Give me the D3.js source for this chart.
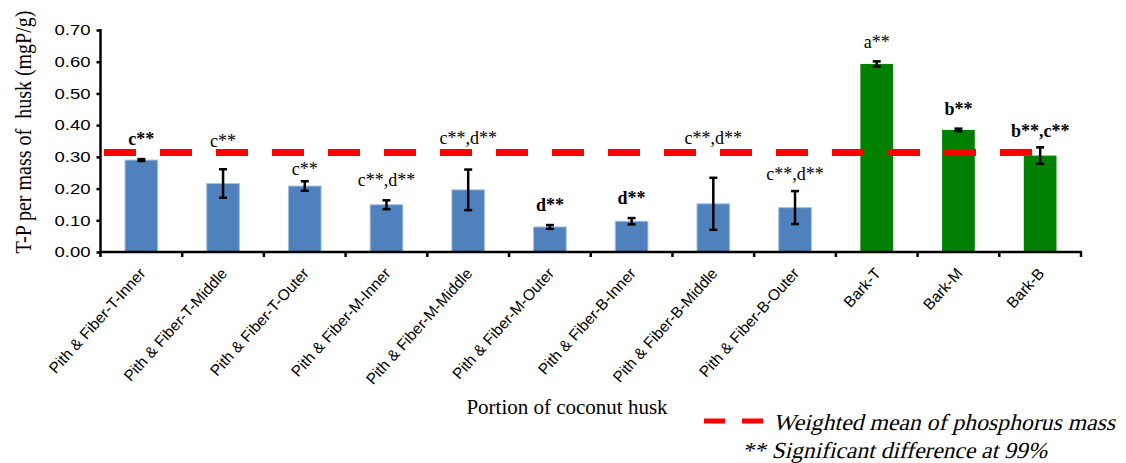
<!DOCTYPE html>
<html>
<head>
<meta charset="utf-8">
<script src="https://cdn.jsdelivr.net/npm/d3@7"></script>
<style>
  body { margin: 0; background: #fff; }
  svg { display: block; }
</style>
</head>
<body>
<svg id="chart" width="1126" height="463"></svg>
<script>
// ---- data ----
const categories = [
  "Pith & Fiber-T-Inner", "Pith & Fiber-T-Middle", "Pith & Fiber-T-Outer",
  "Pith & Fiber-M-Inner", "Pith & Fiber-M-Middle", "Pith & Fiber-M-Outer",
  "Pith & Fiber-B-Inner", "Pith & Fiber-B-Middle", "Pith & Fiber-B-Outer",
  "Bark-T", "Bark-M", "Bark-B"
];
const values = [0.290, 0.216, 0.208, 0.149, 0.196, 0.079, 0.097, 0.152, 0.140, 0.593, 0.385, 0.304];
const errors = [0.003, 0.045, 0.015, 0.014, 0.064, 0.006, 0.010, 0.082, 0.052, 0.008, 0.004, 0.026];
const groupType = ["pith","pith","pith","pith","pith","pith","pith","pith","pith","bark","bark","bark"];
const sigLabels = ["c**", "c**", "c**", "c**,d**", "c**,d**", "d**", "d**", "c**,d**", "c**,d**", "a**", "b**", "b**,c**"];
const sigBold = [true, false, false, false, false, true, true, false, false, false, true, true];
const sigLabelLevel = [0.338, 0.331, 0.243, 0.208, 0.341, 0.129, 0.151, 0.341, 0.227, 0.644, 0.432, 0.363];
const weightedMean = 0.314;
const yTicks = [0, 0.1, 0.2, 0.3, 0.4, 0.5, 0.6, 0.7];
const yTitle = "T-P per mass of  husk (mgP/g)";
const xTitle = "Portion of coconut husk";
const legendMean = "Weighted mean of phosphorus mass";
const legendSig = "** Significant difference at 99%";

// ---- layout ----
const svg = d3.select("#chart");
const plot = { left: 100.5, right: 1081, top: 30, bottom: 252 };
const colors = { pith: "#4F81BD", bark: "#008000" };
const serif = "Liberation Serif";
const sans = "Liberation Sans";

const x = d3.scaleBand().domain(categories).range([plot.left, plot.right]).paddingInner(0.6).paddingOuter(0.3);
const y = d3.scaleLinear().domain([0, 0.7]).range([plot.bottom, plot.top]);
const step = x.step();

// bars
svg.append("g").selectAll("rect").data(categories).join("rect")
  .attr("x", d => x(d))
  .attr("width", x.bandwidth())
  .attr("y", (d, i) => y(values[i]))
  .attr("height", (d, i) => y(0) - y(values[i]))
  .attr("fill", (d, i) => colors[groupType[i]])
  .attr("stroke", (d, i) => groupType[i] === "pith" ? "#a9c1e0" : "none")
  .attr("stroke-width", 1);

// weighted mean dashed line
svg.append("line")
  .attr("x1", plot.left + 3.5)
  .attr("x2", x(categories[categories.length - 1]) + x.bandwidth() / 2 - 8)
  .attr("y1", y(weightedMean)).attr("y2", y(weightedMean))
  .attr("stroke", "#FF0000").attr("stroke-width", 7)
  .attr("stroke-dasharray", "32,24");

// error bars
const eg = svg.append("g").attr("stroke", "#000").attr("stroke-width", 2.5);
categories.forEach((c, i) => {
  const cx = x(c) + x.bandwidth() / 2;
  const y1 = y(values[i] + errors[i]), y2 = y(values[i] - errors[i]);
  eg.append("line").attr("x1", cx).attr("x2", cx).attr("y1", y1).attr("y2", y2);
  eg.append("line").attr("x1", cx - 4).attr("x2", cx + 4).attr("y1", y1).attr("y2", y1);
  eg.append("line").attr("x1", cx - 4).attr("x2", cx + 4).attr("y1", y2).attr("y2", y2);
});

// significance labels
svg.append("g").selectAll("text").data(categories).join("text")
  .attr("x", d => x(d) + x.bandwidth() / 2)
  .attr("y", (d, i) => y(sigLabelLevel[i]))
  .attr("text-anchor", "middle")
  .style("font-family", serif)
  .attr("font-size", 18)
  .attr("font-weight", (d, i) => sigBold[i] ? "bold" : "normal")
  .attr("fill", "#000")
  .text((d, i) => sigLabels[i]);

// y axis
const yAxis = svg.append("g").attr("transform", `translate(${plot.left},0)`)
  .call(d3.axisLeft(y).tickValues(yTicks).tickFormat(d3.format(".2f")).tickSize(4).tickPadding(6));
yAxis.select(".domain").attr("stroke", "#000").attr("stroke-width", 2.5)
  .attr("d", `M0,${plot.top - 1}V${plot.bottom}`);
yAxis.selectAll(".tick line").attr("stroke", "#000").attr("stroke-width", 2.5);
yAxis.selectAll(".tick text")
  .style("font-family", sans).attr("font-size", 15).attr("fill", "#000")
  .attr("textLength", 36).attr("lengthAdjust", "spacingAndGlyphs");

// x axis
const xAxisG = svg.append("g");
xAxisG.append("line")
  .attr("x1", plot.left).attr("x2", plot.right + 1)
  .attr("y1", plot.bottom).attr("y2", plot.bottom)
  .attr("stroke", "#000").attr("stroke-width", 2.5);
const tickXs = d3.range(categories.length + 1).map(k => plot.left + k * step);
xAxisG.selectAll("line.tk").data(tickXs).join("line").attr("class", "tk")
  .attr("x1", d => d).attr("x2", d => d)
  .attr("y1", plot.bottom).attr("y2", plot.bottom + 5)
  .attr("stroke", "#000").attr("stroke-width", 2.5);

// category labels
svg.append("g").selectAll("text").data(categories).join("text")
  .attr("transform", d => `translate(${x(d) + x.bandwidth() / 2 + 5},274) rotate(-48)`)
  .attr("text-anchor", "end")
  .style("font-family", sans)
  .attr("font-size", 15.5)
  .attr("fill", "#000")
  .text(d => d);

// axis titles
svg.append("text")
  .attr("transform", `translate(31,132) rotate(-90) scale(1,1.2)`)
  .attr("text-anchor", "middle")
  .style("font-family", serif)
  .attr("font-size", 20)
  .style("white-space", "pre")
  .attr("fill", "#000")
  .text(yTitle);

svg.append("text")
  .attr("x", 567).attr("y", 414)
  .attr("text-anchor", "middle")
  .style("font-family", serif)
  .attr("font-size", 21)
  .attr("fill", "#000")
  .text(xTitle);

// legend
const lg = svg.append("g");
lg.append("line").attr("x1", 704).attr("x2", 763).attr("y1", 421).attr("y2", 421)
  .attr("stroke", "#FF0000").attr("stroke-width", 5).attr("stroke-dasharray", "21,17");
lg.append("text").attr("transform", "translate(773,430) skewX(-14)")
  .style("font-family", serif).attr("font-size", 23)
  .attr("textLength", 342).attr("lengthAdjust", "spacingAndGlyphs")
  .attr("fill", "#000").text(legendMean);
lg.append("text").attr("transform", "translate(742,458) skewX(-14)")
  .style("font-family", serif).attr("font-size", 23)
  .attr("textLength", 305).attr("lengthAdjust", "spacingAndGlyphs")
  .attr("fill", "#000").text(legendSig);
</script>
</body>
</html>
